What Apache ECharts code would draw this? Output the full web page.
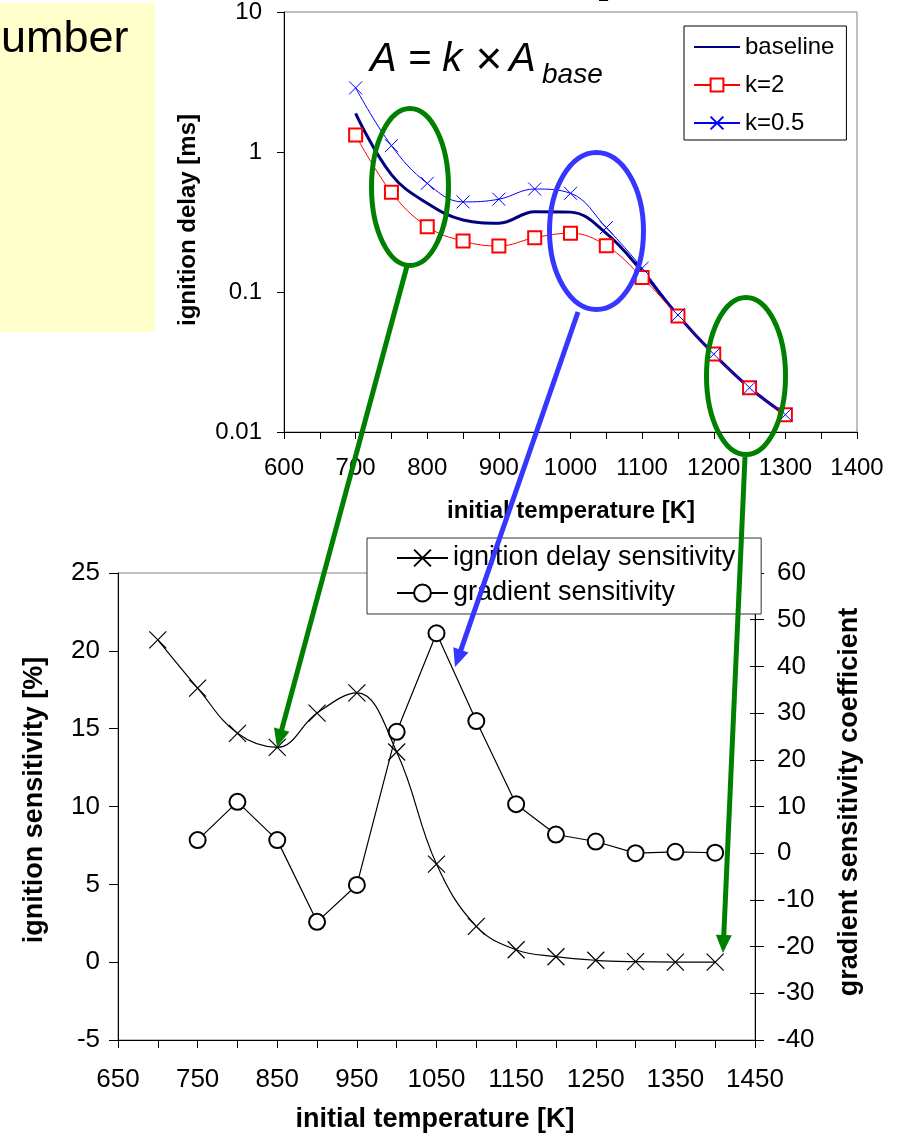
<!DOCTYPE html>
<html>
<head>
<meta charset="utf-8">
<script src="https://cdn.jsdelivr.net/npm/echarts@6/dist/echarts.min.js"></script>
<style>
  html, body { margin: 0; padding: 0; background: #fff; }
  #chart { width: 899px; height: 1142px; }
</style>
</head>
<body>
<div id="chart"></div>
<script>
// ---- data: upper chart (ignition delay, log scale) ----
const topTemps = [700, 750, 800, 850, 900, 950, 1000, 1050, 1100, 1150, 1200, 1250, 1300];
const baselineDelay = [1.89, 0.69, 0.43, 0.327, 0.31, 0.375, 0.372, 0.262, 0.14, 0.068, 0.036, 0.0207, 0.0133];
const k2Delay = [1.32, 0.515, 0.293, 0.231, 0.213, 0.244, 0.263, 0.214, 0.127, 0.0674, 0.036, 0.0207, 0.0133];
const k05Delay = [2.87, 1.11, 0.597, 0.44, 0.46, 0.544, 0.507, 0.288, 0.148, 0.0685, 0.036, 0.0207, 0.0133];
const topTickLabels = ['600', '700', '800', '900', '1000', '1100', '1200', '1300', '1400'];

// ---- data: lower chart (sensitivities) ----
const ignTemps = [700, 750, 800, 850, 900, 950, 1000, 1050, 1100, 1150, 1200, 1250, 1300, 1350, 1400];
const ignitionSens = [20.7, 17.6, 14.7, 13.8, 16.0, 17.3, 13.5, 6.3, 2.3, 0.8, 0.35, 0.12, 0.03, 0.0, 0.0];
const gradTemps = [750, 800, 850, 900, 950, 1000, 1050, 1100, 1150, 1200, 1250, 1300, 1350, 1400];
const gradSens = [2.8, 11.0, 2.8, -14.7, -6.8, 26.0, 47.1, 28.3, 10.5, 4.0, 2.5, 0.0, 0.3, 0.1];

const FONT = "'Liberation Sans', Arial, sans-serif";
const CROSS = 'path://M0 0L10 10M10 0L0 10';
const GREEN = '#008000';
const BLUE = '#3636FF';

const zip = (xs, ys) => xs.map((x, i) => [x, ys[i]]);

// annotation arrow: shaft + filled head
function arrow(x1, y1, x2, y2, color) {
    const dx = x2 - x1, dy = y2 - y1, len = Math.hypot(dx, dy);
    const ux = dx / len, uy = dy / len;
    const hl = 18, hw = 8;
    const bx = x2 - ux * hl, by = y2 - uy * hl;
    return [
        { type: 'line', z: 100, shape: { x1: x1, y1: y1, x2: bx + ux * 2, y2: by + uy * 2 },
          style: { stroke: color, lineWidth: 5 } },
        { type: 'polygon', z: 100,
          shape: { points: [[x2, y2], [bx - uy * hw, by + ux * hw], [bx + uy * hw, by - ux * hw]] },
          style: { fill: color } }
    ];
}

function ellipse(cx, cy, rx, ry, color) {
    return { type: 'ellipse', z: 100, shape: { cx: cx, cy: cy, rx: rx, ry: ry },
             style: { fill: null, stroke: color, lineWidth: 5 } };
}

function title(text, x, y, size, rotate) {
    return { type: 'text', z: 50, x: x, y: y, rotation: rotate ? Math.PI / 2 : 0,
             style: { text: text, fontFamily: FONT, fontSize: size, fontWeight: 'bold', fill: '#000',
                      align: 'center', verticalAlign: 'middle' } };
}

const axisLineStyle = { onZero: false, lineStyle: { color: '#000', width: 1 } };

const chart = echarts.init(document.getElementById('chart'), null, { renderer: 'canvas' });

chart.setOption({
    animation: false,
    backgroundColor: '#fff',
    textStyle: { fontFamily: FONT },
    grid: [
        { left: 284, top: 12, width: 573, height: 420, show: true, borderColor: '#808080', borderWidth: 1 },
        { left: 118, top: 573, width: 637, height: 467, show: true, borderColor: '#808080', borderWidth: 1 }
    ],
    xAxis: [
        {
            gridIndex: 0, type: 'value', min: 600, max: 1400, interval: 50,
            axisLine: axisLineStyle,
            axisTick: { length: 7, lineStyle: { color: '#000' } },
            axisLabel: { margin: 24, fontSize: 24, color: '#000', fontFamily: FONT,
                         formatter: v => topTickLabels.includes(String(v)) ? String(v) : '' },
            splitLine: { show: false }
        },
        {
            gridIndex: 1, type: 'value', min: 650, max: 1450, interval: 50,
            axisLine: axisLineStyle,
            axisTick: { length: 8, lineStyle: { color: '#000' } },
            axisLabel: { margin: 27, fontSize: 26, color: '#000', fontFamily: FONT,
                         formatter: v => (v - 650) % 100 === 0 ? String(v) : '' },
            splitLine: { show: false }
        }
    ],
    yAxis: [
        {
            gridIndex: 0, type: 'log', logBase: 10, min: 0.01, max: 10,
            axisLine: { show: true, onZero: false, lineStyle: { color: '#000' } },
            axisTick: { show: true, length: 7, lineStyle: { color: '#000' } },
            axisLabel: { margin: 22, fontSize: 24, color: '#000', fontFamily: FONT,
                         formatter: v => {
                             const e = Math.round(Math.log10(v));
                             return e < 0 ? Math.pow(10, e).toFixed(-e) : String(Math.pow(10, e));
                         } },
            splitLine: { show: false }
        },
        {
            gridIndex: 1, type: 'value', min: -5, max: 25, interval: 5,
            axisLine: { show: true, onZero: false, lineStyle: { color: '#000' } },
            axisTick: { show: true, length: 9, lineStyle: { color: '#000' } },
            axisLabel: { margin: 18, fontSize: 26, color: '#000', fontFamily: FONT },
            splitLine: { show: false }
        },
        {
            gridIndex: 1, type: 'value', position: 'right', min: -40, max: 60, interval: 10,
            axisLine: { show: true, onZero: false, lineStyle: { color: '#000' } },
            axisTick: { show: true, length: 9, lineStyle: { color: '#000' } },
            axisLabel: { margin: 22, fontSize: 26, color: '#000', fontFamily: FONT },
            splitLine: { show: false }
        },
        {
            // inner half of the crossing ticks on the right axis
            gridIndex: 1, type: 'value', position: 'right', min: -40, max: 60, interval: 10,
            axisLine: { show: false, onZero: false },
            axisTick: { show: true, inside: true, length: 5, lineStyle: { color: '#000' } },
            axisLabel: { show: false },
            splitLine: { show: false }
        }
    ],
    legend: [
        {
            data: [{ name: 'baseline', itemStyle: { opacity: 0 } }, 'k=2', 'k=0.5'],
            orient: 'vertical', left: 684, top: 26,
            padding: [8, 12, 4, 9], itemGap: 12, itemWidth: 46, itemHeight: 16,
            backgroundColor: '#fff', borderColor: '#000', borderWidth: 1, borderRadius: 0,
            textStyle: { fontSize: 24, lineHeight: 26, color: '#000', fontFamily: FONT }
        },
        {
            data: ['ignition delay sensitivity', 'gradient sensitivity'],
            orient: 'vertical', left: 367, top: 538,
            padding: [6, 26, 7, 29], itemGap: 7, itemWidth: 51, itemHeight: 21,
            backgroundColor: '#fff', borderColor: '#333', borderWidth: 1, borderRadius: 0,
            textStyle: { fontSize: 27, lineHeight: 28, color: '#000', fontFamily: FONT }
        }
    ],
    series: [
        {
            name: 'baseline', type: 'line', xAxisIndex: 0, yAxisIndex: 0,
            data: zip(topTemps, baselineDelay), smooth: 0.4, symbol: 'none',
            lineStyle: { color: '#000080', width: 3 }, itemStyle: { color: '#000080' }
        },
        {
            name: 'k=2', type: 'line', xAxisIndex: 0, yAxisIndex: 0,
            data: zip(topTemps, k2Delay), smooth: 0.4,
            symbol: 'emptyRect', symbolSize: 13,
            lineStyle: { color: '#FF0000', width: 1 },
            itemStyle: { color: '#FF0000', borderColor: '#FF0000', borderWidth: 1 }
        },
        {
            name: 'k=0.5', type: 'line', xAxisIndex: 0, yAxisIndex: 0,
            data: zip(topTemps, k05Delay), smooth: 0.4,
            symbol: CROSS, symbolSize: 13,
            lineStyle: { color: '#0000FF', width: 1 },
            itemStyle: { color: '#0000FF', borderColor: '#0000FF', borderWidth: 1 }
        },
        {
            name: 'ignition delay sensitivity', type: 'line', xAxisIndex: 1, yAxisIndex: 1,
            data: zip(ignTemps, ignitionSens), smooth: 0.4,
            symbol: CROSS, symbolSize: 17,
            lineStyle: { color: '#000', width: 1.2 },
            itemStyle: { color: '#000', borderColor: '#000', borderWidth: 1.2 }
        },
        {
            name: 'gradient sensitivity', type: 'line', xAxisIndex: 1, yAxisIndex: 2,
            data: zip(gradTemps, gradSens), smooth: false,
            symbol: 'emptyCircle', symbolSize: 16,
            lineStyle: { color: '#000', width: 1.2 },
            itemStyle: { color: '#000', borderColor: '#000', borderWidth: 1.2 }
        }
    ],
    graphic: [
        // yellow note box at the left
        { type: 'rect', z: -10, shape: { x: 0, y: 3, width: 155, height: 329 }, style: { fill: '#FFFFCC' } },
        { type: 'text', z: 50, x: 1, y: 40,
          style: { text: 'umber', fontFamily: FONT, fontSize: 45, fill: '#000', align: 'left', verticalAlign: 'middle' } },
        { type: 'text', z: 50, x: 598, y: -15,
          style: { text: '2', fontFamily: FONT, fontSize: 20, fill: '#000', align: 'left', verticalAlign: 'top' } },
        // formula  A = k × A_base
        { type: 'text', z: 50, x: 370, y: 60,
          style: { text: 'A = k', fontFamily: FONT, fontSize: 40, fontStyle: 'italic', fill: '#000', align: 'left', verticalAlign: 'middle' } },
        { type: 'text', z: 50, x: 489, y: 61,
          style: { text: '×', fontFamily: FONT, fontSize: 46, fill: '#000', align: 'center', verticalAlign: 'middle' } },
        { type: 'text', z: 50, x: 509, y: 60,
          style: { text: 'A', fontFamily: FONT, fontSize: 40, fontStyle: 'italic', fill: '#000', align: 'left', verticalAlign: 'middle' } },
        { type: 'text', z: 50, x: 542, y: 75,
          style: { text: 'base', fontFamily: FONT, fontSize: 28, fontStyle: 'italic', fill: '#000', align: 'left', verticalAlign: 'middle' } },
        // axis titles
        title('ignition delay [ms]', 188, 220, 24, true),
        title('initial temperature [K]', 571, 511, 24, false),
        title('ignition sensitivity [%]', 35, 800, 27, true),
        title('gradient sensitivity coefficient', 850, 802, 27, true),
        title('initial temperature [K]', 435, 1120, 27, false),
        // highlight ellipses and arrows
        ellipse(410, 187, 38.5, 78.5, GREEN),
        ellipse(596.5, 231, 47, 78.5, BLUE),
        ellipse(746, 376, 39.5, 78.5, GREEN),
        ...arrow(407, 266, 277, 747, GREEN),
        ...arrow(578, 312, 455, 667, BLUE),
        ...arrow(745, 457, 723, 953, GREEN)
    ]
});
</script>
</body>
</html>
